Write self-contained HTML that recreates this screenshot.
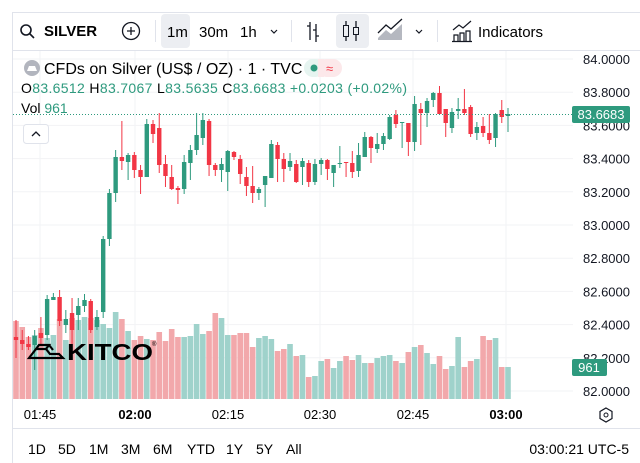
<!DOCTYPE html>
<html><head><meta charset="utf-8">
<style>
body{margin:0;width:640px;height:463px;background:#fff;overflow:hidden;font-family:"Liberation Sans",sans-serif;color:#131722}
svg{position:absolute;left:0;top:0}
</style></head><body>
<svg id="s" width="640" height="463" xmlns="http://www.w3.org/2000/svg" font-family="Liberation Sans, sans-serif">
<rect x="12.5" y="12.5" width="640" height="470" fill="none" stroke="#e0e3eb"/>
<line x1="12" y1="50.5" x2="640" y2="50.5" stroke="#e0e3eb"/>
<line x1="12" y1="428.5" x2="640" y2="428.5" stroke="#e0e3eb"/>
<circle cx="26" cy="30" r="5" fill="none" stroke="#131722" stroke-width="1.6"/><line x1="30" y1="34" x2="34" y2="38" stroke="#131722" stroke-width="1.6"/>
<text x="44" y="36" font-size="15" font-weight="bold">SILVER</text>
<circle cx="131" cy="31" r="8.5" fill="none" stroke="#131722" stroke-width="1.3"/><path d="M127 31h8M131 27v8" stroke="#131722" stroke-width="1.3"/>
<line x1="155.5" y1="20" x2="155.5" y2="42" stroke="#e0e3eb"/>
<rect x="161" y="14" width="29" height="34" rx="4" fill="#eceef2"/>
<text x="167" y="37" font-size="15">1m</text><text x="199" y="37" font-size="15">30m</text><text x="240" y="37" font-size="15">1h</text>
<path d="M271 30l3 3 3-3" fill="none" stroke="#131722" stroke-width="1.2"/>
<line x1="291.5" y1="20" x2="291.5" y2="42" stroke="#e0e3eb"/>
<path d="M310 22v18M307 26h3M316 24v18M316 36h3M313 30h3" fill="none" stroke="#131722" stroke-width="1.3"/>
<rect x="336" y="14" width="33" height="34" rx="4" fill="#eceef2"/>
<path d="M346 21v20M356 21v20" stroke="#131722" stroke-width="1.3"/><rect x="343.5" y="25.5" width="5" height="11" fill="#eceef2" stroke="#131722"/><rect x="353.5" y="27.5" width="5" height="7" fill="#eceef2" stroke="#131722"/>
<path d="M378 38l8-8 5 4 11-10v16h-24z" fill="#b5b8c0"/><path d="M378 33l8-8 5 4 11-10" fill="none" stroke="#131722" stroke-width="1.3"/>
<path d="M416 30l3 3 3-3" fill="none" stroke="#131722" stroke-width="1.2"/>
<line x1="437.5" y1="20" x2="437.5" y2="42" stroke="#e0e3eb"/>
<path d="M453 30l6-5 4 3 8-7M454 41v-6h4v6M460 41v-8h4v8M466 41v-10h4v10M452 41.5h20" fill="none" stroke="#131722" stroke-width="1.2"/>
<text x="478" y="37" font-size="15">Indicators</text>
<g id="grid" stroke="#f2f3f5"></g>
<g id="vol"></g>
<g id="cand"></g>
<line x1="13" y1="114.5" x2="573" y2="114.5" stroke="#2e9a7e" stroke-dasharray="1 2"/>
<g id="plab" font-size="13" fill="#131722"></g>
<rect x="572" y="106" width="58" height="17" rx="2" fill="#2e9a7e"/><text x="601" y="119" font-size="13" fill="#fff" text-anchor="middle">83.6683</text>
<rect x="572" y="359" width="35" height="17" rx="2" fill="#2e9a7e"/><text x="589" y="372" font-size="13" fill="#fff" text-anchor="middle">961</text>
<circle cx="32" cy="68" r="8" fill="#b2b5be"/><path d="M27 71h10l-2-5h-6z" fill="#fff"/>
<text x="44" y="74" font-size="16">CFDs on Silver (US$ / OZ) · 1 · TVC</text>
<rect x="304" y="59" width="20" height="18" rx="9" fill="#e6f4f0"/><rect x="318" y="59" width="24" height="18" rx="9" fill="#fce8ea"/><rect x="318" y="59" width="6" height="18" fill="#fce8ea"/>
<circle cx="314" cy="68" r="3.5" fill="#2e9a7e"/><text x="326" y="73" font-size="13" fill="#f23645">≈</text>
<text x="21" y="93" font-size="14" textLength="386" lengthAdjust="spacing"><tspan>O</tspan><tspan fill="#2e9a7e">83.6512 </tspan><tspan>H</tspan><tspan fill="#2e9a7e">83.7067 </tspan><tspan>L</tspan><tspan fill="#2e9a7e">83.5635 </tspan><tspan>C</tspan><tspan fill="#2e9a7e">83.6683 +0.0203 (+0.02%)</tspan></text>
<text x="21" y="113" font-size="14">Vol <tspan fill="#2e9a7e">961</tspan></text>
<rect x="23.5" y="124.5" width="25" height="19" rx="3" fill="#fff" stroke="#e0e3eb"/><path d="M32 136l4-4 4 4" fill="none" stroke="#131722" stroke-width="1.3"/>
<path d="M29 358l7-9h10l4 5h9l4 4zM36 349l3-4h10l-3 4M49 345l4 5" fill="none" stroke="#000" stroke-width="2.2"/>
<text x="67" y="360" font-size="23" font-weight="bold" fill="#000" textLength="86" lengthAdjust="spacingAndGlyphs">KITCO</text>
<text x="152" y="346" font-size="6" fill="#000">®</text>
<g font-size="13" text-anchor="middle">
<text x="40" y="419">01:45</text><text x="135" y="419" font-weight="bold">02:00</text><text x="228" y="419">02:15</text><text x="320" y="419">02:30</text><text x="413" y="419">02:45</text><text x="506" y="419" font-weight="bold">03:00</text>
</g>
<path d="M606 408l6 3.5v7l-6 3.5-6-3.5v-7z" fill="none" stroke="#131722" stroke-width="1.2"/><circle cx="606" cy="415" r="2" fill="none" stroke="#131722"/>
<g font-size="14"><text x="28" y="454">1D</text><text x="58" y="454">5D</text><text x="89" y="454">1M</text><text x="121" y="454">3M</text><text x="153" y="454">6M</text><text x="187" y="454">YTD</text><text x="226" y="454">1Y</text><text x="256" y="454">5Y</text><text x="286" y="454">All</text>
<text x="629" y="454" text-anchor="end">03:00:21 UTC-5</text></g>
</svg>
<script>
var NS="http://www.w3.org/2000/svg";
function el(p,t,a){var e=document.createElementNS(NS,t);for(var k in a)e.setAttribute(k,a[k]);document.getElementById(p).appendChild(e);return e;}
for(var i=0;i<=10;i++){var y=59+i*33.2;var p=(84-i*0.2).toFixed(4);
 el('grid','line',{x1:13,y1:y,x2:573,y2:y});
 var t=el('plab','text',{x:630,y:y+5,'text-anchor':'end'});t.textContent=p;}
[40,135,228,320,413,506].forEach(function(x){el('grid','line',{x1:x,y1:51,x2:x,y2:399});});
var C=[[0,337,340,320,358],[0,340,344,330,350],[0,344,347,336,350],[1,336,345,330,370],[0,333,338,317,345],[1,299,335,295,340],[1,297,300,293,300],[0,297,321,290,326],[1,319,325,310,333],[0,313,330,298,345],[1,306,315,298,330],[1,300,306,294,312],[0,301,330,299,333],[1,317,327,310,330],[1,239,312,236,318],[1,193,239,189,246],[1,157,193,150,202],[0,157,161,121,170],[1,155,162,153,180],[0,155,170,152,178],[0,170,177,165,194],[1,124,177,119,177],[0,124,134,120,143],[0,128,165,113,173],[0,164,176,155,187],[0,177,189,165,190],[0,188,190,186,204],[1,162,189,155,194],[1,150,163,145,180],[1,135,150,113,155],[1,120,138,113,145],[0,121,165,119,176],[0,165,170,163,176],[1,164,170,158,182],[1,151,172,150,191],[0,152,157,151,160],[0,159,174,155,184],[0,177,186,167,196],[0,186,193,166,203],[1,189,193,187,200],[1,176,185,176,207],[1,144,178,140,178],[0,145,159,142,182],[0,159,169,153,182],[1,161,167,153,171],[0,164,182,160,183],[1,161,167,158,185],
[0,163,182,160,187],[1,164,182,159,185],[1,160,164,158,175],[0,160,169,159,180],[1,165,173,165,187],[1,163,164,146,168],[0,162,163,162,177],[0,163,172,151,178],[1,155,171,143,177],[1,137,157,132,157],[0,137,148,136,163],[1,144,149,133,153],[1,136,144,133,150],[1,117,139,115,140],[0,115,124,110,128],[1,122,123,122,148],[0,123,142,123,156],[1,104,142,96,151],[0,109,113,103,145],[1,101,113,98,127],[1,93,100,92,107],[0,93,114,86,114],[0,109,123,109,137],[1,112,128,108,133],[1,109,111,98,119],[0,109,113,89,115],[0,107,134,105,137],[1,127,133,122,140],[0,126,133,117,137],[0,133,140,114,144],[1,114,138,113,147],[0,110,117,100,123],[1,114,116,108,132]];
var V=[321,327,337,335,328,338,335,319,340,318,320,317,318,320,324,328,312,319,331,340,336,339,340,332,341,329,337,337,336,324,334,331,313,318,335,335,333,333,347,338,336,339,351,349,344,356,355,
377,376,361,359,368,361,356,360,355,363,363,358,356,355,361,363,352,347,345,353,364,356,369,366,337,367,361,359,336,340,338,367];
var n=C.length;
for(var i=0;i<n;i++){var x=16+i*(492/(n-1));var c=C[i];var col=c[0]?'#2e9a7e':'#f23645';
 var vy=V[Math.min(i,V.length-1)];
 el('vol','rect',{x:x-2.8,y:vy,width:5.6,height:399-vy,fill:c[0]?'#9fd2cb':'#f2a8ab'});
 el('cand','rect',{x:x-0.5,y:c[3],width:1,height:c[4]-c[3],fill:col});
 el('cand','rect',{x:x-2.2,y:c[1],width:4.4,height:Math.max(1,c[2]-c[1]),fill:col});}
</script>
</body></html>
